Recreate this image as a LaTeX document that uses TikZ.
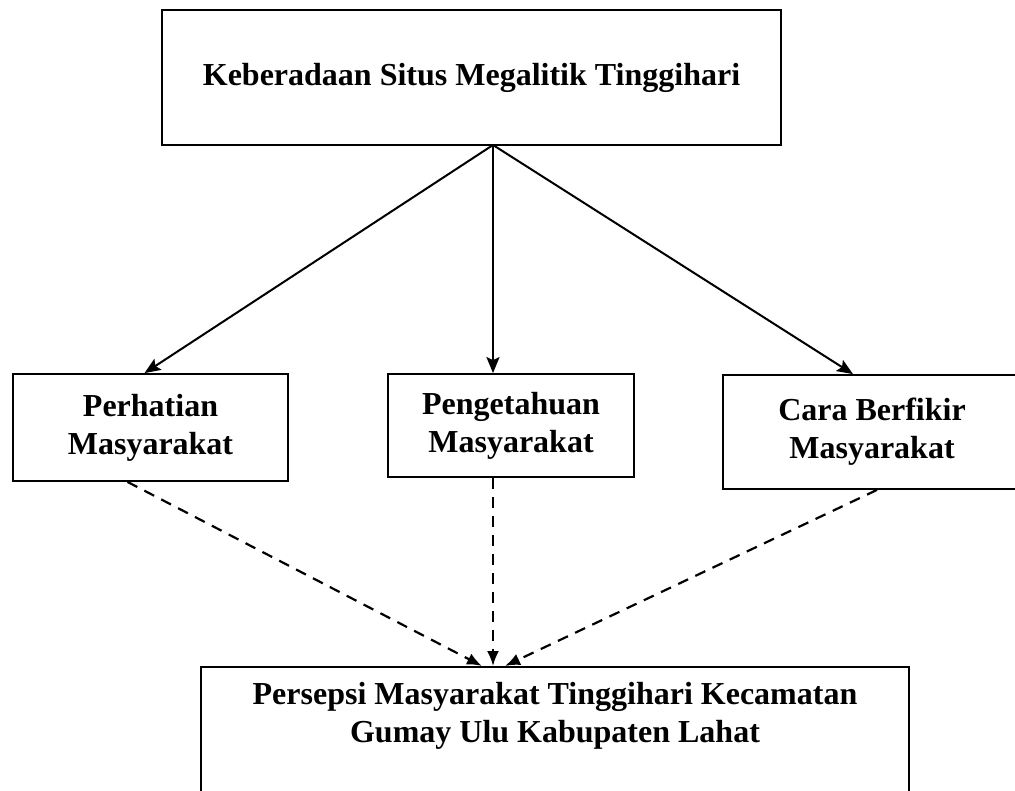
\documentclass[tikz,border=0pt]{standalone}
\usepackage{fontspec}
\setmainfont{Liberation Serif}
\usetikzlibrary{arrows.meta}
\begin{document}
\begin{tikzpicture}[x=1pt,y=-1pt,
  box/.style={draw,line width=1.8pt,align=center,inner sep=0pt,font=\fontsize{32}{38}\selectfont\bfseries},
  txt/.style={align=center,inner sep=0pt,font=\fontsize{32}{38}\selectfont\bfseries},
  solidarrow/.style={line width=2pt,-{Stealth[length=16pt,width=13pt,inset=3pt]}},
  dasharrow/.style={line width=2.2pt,dash pattern=on 11pt off 8pt,-{Latex[length=15pt,width=12pt]}}]
\useasboundingbox (0,0) rectangle (1015,791);
\clip (0,0) rectangle (1015,791);
\node[box,minimum width=619pt,minimum height=135pt] (top) at (471.5,77.5) {Keberadaan Situs Megalitik Tinggihari};
\node[box,minimum width=275pt,minimum height=107pt] (left) at (150.5,427.5) {Perhatian\\Masyarakat};
\node[box,minimum width=246pt,minimum height=103pt] (mid) at (511,425.5) {Pengetahuan\\Masyarakat};
\node[box,minimum width=298pt,minimum height=114pt] (right) at (872,432) {Cara Berfikir\\Masyarakat};
\coordinate (btl) at (201,667);
\coordinate (btr) at (909,667);
\draw[line width=1.8pt] (201,795) -- (btl) -- (btr) -- (909,795);
\node[txt] (bot) at (555,716) {Persepsi Masyarakat Tinggihari Kecamatan\\Gumay Ulu Kabupaten Lahat};
\coordinate (apex) at (493,145);
\draw[solidarrow] (apex) -- ([xshift=-6pt]left.north);
\draw[solidarrow] (apex) -- (apex |- mid.north);
\draw[solidarrow] (apex) -- ([xshift=-19pt]right.north);
\coordinate (tL) at (482,666);
\coordinate (tM) at (493,666);
\coordinate (tR) at (505,666);
\draw[dasharrow] ([xshift=-23pt]left.south) -- (tL);
\draw[dasharrow] (mid.south -| apex) -- (tM);
\draw[dasharrow] ([xshift=5pt]right.south) -- (tR);
\end{tikzpicture}
\end{document}
